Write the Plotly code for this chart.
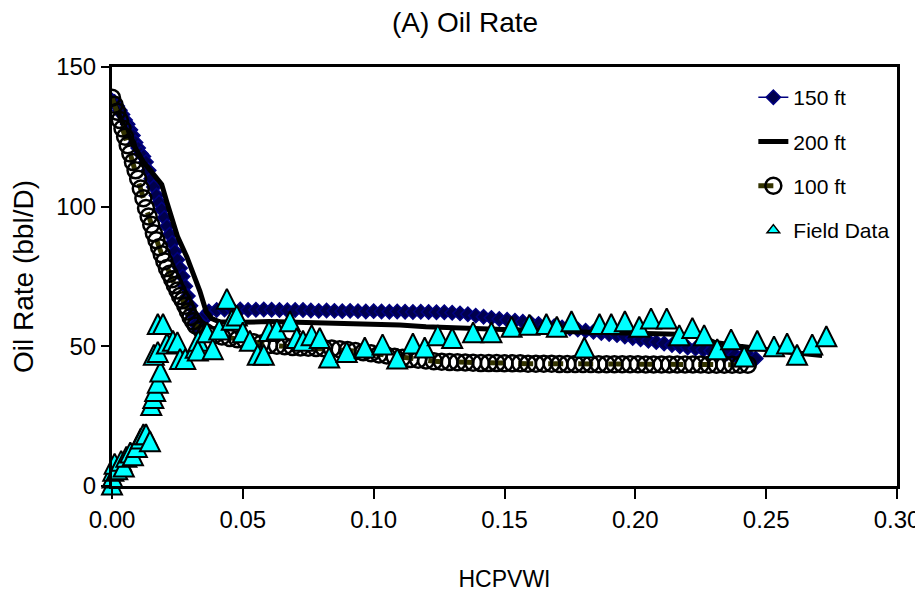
import plotly.graph_objects as go

# ---------------- data ----------------
x150 = [0.000, 0.001, 0.002, 0.003, 0.004, 0.005, 0.006, 0.007, 0.008, 0.009,
        0.010, 0.011, 0.012, 0.013, 0.014, 0.015, 0.016, 0.017, 0.018, 0.019,
        0.020, 0.021, 0.022, 0.023, 0.024, 0.025, 0.026, 0.027, 0.028, 0.029,
        0.030, 0.031, 0.032, 0.033, 0.034, 0.035, 0.036, 0.037,
        0.040, 0.043, 0.046, 0.049, 0.052, 0.055, 0.058, 0.061, 0.064, 0.067,
        0.070, 0.073, 0.076, 0.079, 0.082, 0.085, 0.088, 0.091, 0.094, 0.097,
        0.100, 0.103, 0.106, 0.109, 0.112, 0.115, 0.118, 0.121, 0.124, 0.127,
        0.130, 0.133, 0.136, 0.139, 0.142, 0.145, 0.148, 0.151, 0.154, 0.157,
        0.160, 0.163, 0.166, 0.169, 0.172, 0.175, 0.178, 0.181, 0.184, 0.187,
        0.190, 0.193, 0.196, 0.199, 0.202, 0.205, 0.208, 0.211, 0.214, 0.217,
        0.220, 0.223, 0.226, 0.229, 0.232, 0.235, 0.238, 0.241, 0.244, 0.246]
y150 = [138.0, 137.5, 136.0, 134.5, 133.0, 131.0, 129.5, 127.5, 125.5, 123.0,
        121.0, 119.0, 118.0, 116.0, 113.0, 110.0, 107.0, 104.0, 101.5, 99.0,
        96.0, 93.0, 90.0, 87.0, 84.0, 81.0, 78.0, 75.0, 71.5, 68.0,
        64.5, 61.0, 58.0, 56.0, 57.0, 59.5, 61.5, 62.5,
        63.0, 63.2, 63.3, 63.2, 63.0, 63.1, 63.2, 63.1, 63.0, 62.9,
        63.0, 63.0, 62.8, 62.7, 62.8, 62.7, 62.6, 62.7, 62.6, 62.5,
        62.6, 62.5, 62.4, 62.5, 62.4, 62.3, 62.4, 62.3, 62.2, 62.2,
        62.0, 61.8, 61.5, 61.0, 60.6, 60.2, 59.8, 59.5, 59.2, 58.8,
        58.4, 58.0, 57.6, 57.2, 56.8, 56.4, 56.0, 55.6, 55.2, 54.8,
        54.4, 54.0, 53.5, 53.0, 52.5, 52.0, 51.5, 51.0, 50.5, 50.0,
        49.6, 49.2, 48.8, 48.4, 48.0, 47.5, 47.0, 46.5, 46.0, 45.6]

x200 = [0.000, 0.004, 0.008, 0.012, 0.0155, 0.017, 0.019, 0.021, 0.0233, 0.025,
        0.0286, 0.031, 0.0336, 0.036, 0.038, 0.041, 0.050, 0.060, 0.070, 0.080,
        0.090, 0.100, 0.110, 0.120, 0.130, 0.140, 0.150, 0.160, 0.170, 0.180,
        0.190, 0.200, 0.210, 0.220, 0.225, 0.230, 0.240, 0.250, 0.260, 0.2714]
y200 = [139.0, 130.0, 122.5, 116.0, 112.0, 110.5, 108.0, 101.5, 94.0, 89.4,
        82.0, 76.0, 69.7, 62.4, 60.0, 58.8, 58.6, 58.9, 58.7, 58.4,
        58.2, 58.0, 57.6, 57.0, 56.6, 56.3, 56.0, 55.7, 55.4, 55.1,
        54.9, 54.7, 54.5, 54.2, 53.5, 51.5, 50.0, 48.7, 47.8, 46.7]

x100 = [0.000, 0.001, 0.002, 0.003, 0.004, 0.005, 0.006, 0.007, 0.008, 0.009,
        0.010, 0.011, 0.012, 0.013, 0.014, 0.015, 0.016, 0.017, 0.018, 0.019,
        0.020, 0.021, 0.022, 0.023, 0.024, 0.025, 0.026, 0.027, 0.028, 0.029,
        0.030, 0.031, 0.032, 0.034, 0.036,
        0.039, 0.042, 0.045, 0.048, 0.051, 0.054, 0.057, 0.060, 0.063, 0.066,
        0.069, 0.072, 0.075, 0.078, 0.081, 0.084, 0.087, 0.090, 0.093, 0.096,
        0.099, 0.102, 0.105, 0.108, 0.111, 0.114, 0.117, 0.120, 0.123, 0.126,
        0.129, 0.132, 0.135, 0.138, 0.141, 0.144, 0.147, 0.150, 0.153, 0.156,
        0.159, 0.162, 0.165, 0.168, 0.171, 0.174, 0.177, 0.180, 0.183, 0.186,
        0.189, 0.192, 0.195, 0.198, 0.201, 0.204, 0.207, 0.210, 0.213, 0.216,
        0.219, 0.222, 0.225, 0.228, 0.231, 0.234, 0.237, 0.240, 0.243]
y100 = [139.0, 136.5, 134.0, 131.0, 128.0, 125.0, 122.0, 119.0, 116.0, 113.0,
        110.0, 106.5, 103.0, 99.5, 96.5, 93.5, 90.5, 88.0, 85.5, 83.0,
        80.5, 78.0, 76.0, 74.0, 72.0, 70.0, 68.0, 66.5, 64.5, 62.5,
        60.5, 59.0, 57.5, 56.0, 55.0,
        54.0, 53.5, 53.0, 52.5, 52.0, 51.5, 51.0, 50.5, 50.2, 50.0,
        49.8, 49.6, 49.5, 49.4, 49.3, 49.2, 49.0, 48.7, 48.3, 47.9,
        47.5, 47.1, 46.7, 46.3, 45.9, 45.5, 45.2, 44.9, 44.7, 44.5,
        44.4, 44.3, 44.2, 44.1, 44.0, 44.0, 44.0, 43.9, 43.9, 43.9,
        43.8, 43.8, 43.8, 43.8, 43.7, 43.7, 43.7, 43.7, 43.7, 43.6,
        43.6, 43.6, 43.6, 43.6, 43.6, 43.5, 43.5, 43.5, 43.5, 43.5,
        43.5, 43.5, 43.5, 43.4, 43.4, 43.4, 43.4, 43.4, 43.4]

xfield = [0.0000, 0.0002, 0.0005, 0.0010, 0.0020, 0.0035, 0.0045, 0.0055, 0.0070, 0.0080,
          0.0095, 0.0110, 0.0120, 0.0130, 0.0145, 0.0150, 0.0158, 0.0165, 0.0175, 0.0185,
          0.0160, 0.0175, 0.0175, 0.0195, 0.0210, 0.0233, 0.0250, 0.0260, 0.0280, 0.0320,
          0.0330, 0.0328, 0.0363, 0.0385, 0.0410, 0.0439, 0.0458, 0.0477, 0.0500, 0.0527,
          0.0557, 0.0580, 0.0600, 0.0630, 0.0680, 0.0706, 0.0730, 0.0763, 0.0794, 0.0830,
          0.0897, 0.0966, 0.1034, 0.1090, 0.1150, 0.1195, 0.1245, 0.1300, 0.1380, 0.1450,
          0.1527, 0.1595, 0.1660, 0.1700, 0.1756, 0.1805, 0.1863, 0.1908, 0.1960, 0.2015,
          0.2060, 0.2120, 0.2168, 0.2218, 0.2263, 0.2313, 0.2366, 0.2416, 0.2466, 0.2530,
          0.2580, 0.2618, 0.2676, 0.2730]
yfield = [0.5, 3.0, 5.5, 8.0, 6.0, 9.0, 7.0, 10.5, 12.0, 11.0,
          14.0, 17.0, 18.5, 18.5, 16.0, 29.0, 31.5, 34.0, 37.0, 41.0,
          47.0, 48.0, 58.0, 58.0, 51.0, 52.0, 51.5, 45.5, 45.5, 49.5,
          52.0, 48.5, 55.0, 49.0, 56.0, 67.0, 59.5, 61.0, 55.0, 52.0,
          47.0, 47.0, 55.5, 56.0, 59.0, 53.0, 52.0, 54.0, 53.0, 46.0,
          48.0, 49.6, 50.7, 45.6, 51.0, 49.6, 54.0, 53.0, 55.0, 55.0,
          57.0, 57.7, 58.0, 57.0, 59.0, 49.6, 58.0, 58.0, 59.0, 57.0,
          60.0, 60.0, 54.0, 56.6, 54.0, 49.0, 52.5, 46.4, 52.0, 50.0,
          51.0, 47.0, 50.7, 53.6]

x_ticks = [0.00, 0.05, 0.10, 0.15, 0.20, 0.25, 0.30]
y_ticks = [0, 50, 100, 150]

FONT = "Liberation Sans, Arial, sans-serif"

fig = go.Figure()

fig.add_trace(go.Scatter(
    x=x150, y=y150, name="150 ft", mode="lines+markers",
    line=dict(color="#000080", width=1.5),
    marker=dict(symbol="diamond", size=11, color="#00004d",
                line=dict(color="#000080", width=1.5)),
    legendgroup="a", legendrank=1))

fig.add_trace(go.Scatter(
    x=x200, y=y200, name="200 ft", mode="lines",
    line=dict(color="#000000", width=5),
    legendgroup="b", legendrank=2))

fig.add_trace(go.Scatter(
    x=x100, y=y100, name="100 ft", mode="lines+markers",
    line=dict(color="#333300", width=5, dash="dash"),
    marker=dict(symbol="circle-open", size=16, color="#000000",
                line=dict(color="#000000", width=2.5)),
    legendgroup="c", legendrank=3))

# field data: tall triangles centred on each point
fig.add_trace(go.Scatter(
    x=xfield, y=yfield, name="Field Data", mode="markers",
    marker=dict(symbol="arrow-down", angle=180, size=20, standoff=10,
                color="#00FFFF", line=dict(color="#000000", width=2)),
    cliponaxis=False, showlegend=False,
    legendgroup="d"))

# legend entry for the field data (no points of its own)
fig.add_trace(go.Scatter(
    x=[None], y=[None], name="Field Data", mode="markers",
    marker=dict(symbol="triangle-up", size=11, color="#00FFFF",
                line=dict(color="#000000", width=1.5)),
    legendgroup="d", legendrank=4, showlegend=True))

fig.update_layout(
    width=915, height=593,
    margin=dict(l=104, r=26, t=59, b=115),
    paper_bgcolor="white", plot_bgcolor="white",
    font=dict(family=FONT, size=24, color="black"),
    title=dict(text="(A) Oil Rate", x=0.4995, xref="container", xanchor="center",
               y=0.976, yref="container", yanchor="middle",
               font=dict(family=FONT, size=28, color="black")),
    legend=dict(x=0.817, y=0.976, xanchor="left", yanchor="top",
                bgcolor="rgba(0,0,0,0)", tracegroupgap=14,
                font=dict(family=FONT, size=21, color="black")),
    showlegend=True,
)

fig.update_xaxes(
    range=[0, 0.30], tickvals=x_ticks, tickformat=".2f",
    showgrid=False, zeroline=False, automargin=False,
    showline=True, linecolor="black", linewidth=3, mirror=True,
    ticks="outside", ticklen=10, tickwidth=2, tickcolor="black",
    tickfont=dict(family=FONT, size=24),
    title=dict(text="HCPVWI", standoff=40, font=dict(family=FONT, size=23)))

fig.update_yaxes(
    range=[0, 150], tickvals=y_ticks,
    showgrid=False, zeroline=False, automargin=False,
    showline=True, linecolor="black", linewidth=3, mirror=True,
    ticks="outside", ticklen=8, tickwidth=2, tickcolor="black",
    tickfont=dict(family=FONT, size=24),
    title=dict(text="Oil Rate (bbl/D)", standoff=22, font=dict(family=FONT, size=28)))

fig.write_html("out.html")
